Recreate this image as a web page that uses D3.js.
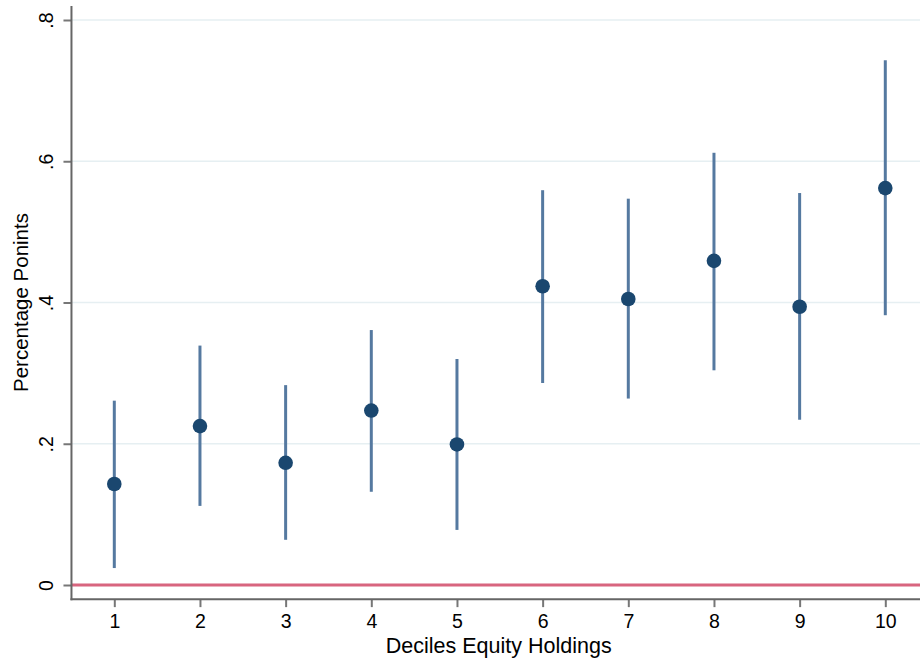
<!DOCTYPE html>
<html>
<head>
<meta charset="utf-8">
<script src="https://cdn.jsdelivr.net/npm/d3@7"></script>
<style>
  html, body { margin: 0; padding: 0; background: #ffffff; }
  svg { display: block; }
  text { font-family: "Liberation Sans", Arial, Helvetica, sans-serif; fill: #000; }
</style>
</head>
<body>
<svg id="chart" width="920" height="664"></svg>
<script>
// Deciles of equity holdings
const deciles = [1, 2, 3, 4, 5, 6, 7, 8, 9, 10];
// Point estimates (percentage points)
const estimates = [0.143, 0.225, 0.173, 0.247, 0.199, 0.423, 0.405, 0.459, 0.394, 0.562];
// Confidence interval bounds
const ciLower = [0.024, 0.112, 0.064, 0.132, 0.078, 0.286, 0.264, 0.304, 0.234, 0.382];
const ciUpper = [0.261, 0.339, 0.283, 0.361, 0.320, 0.559, 0.547, 0.612, 0.555, 0.743];
// Y-axis ticks and their labels
const yTicks = [0, 0.2, 0.4, 0.6, 0.8];
const yTickLabels = ["0", ".2", ".4", ".6", ".8"];

(function draw() {
  const svg = d3.select("#chart");
  const W = 920;

  const x = d3.scaleLinear().domain([1, 10]).range([114.3, 885.3]);
  const y = d3.scaleLinear().domain([0, 0.8]).range([585, 20]);

  const plotLeft = x(0.5);
  const plotBottom = y(-0.02);
  const plotTop = y(0.82);

  // Horizontal gridlines
  svg.append("g")
    .selectAll("line")
    .data(yTicks.filter(d => d > 0))
    .join("line")
    .attr("x1", plotLeft).attr("x2", W)
    .attr("y1", d => y(d)).attr("y2", d => y(d))
    .attr("stroke", "#e6eff2").attr("stroke-width", 1.5);

  // Reference line at zero
  svg.append("line")
    .attr("x1", plotLeft).attr("x2", W)
    .attr("y1", y(0)).attr("y2", y(0))
    .attr("stroke", "#d8657f").attr("stroke-width", 3);

  // Y axis
  const yAxis = svg.append("g")
    .attr("transform", `translate(${plotLeft},0)`)
    .call(d3.axisLeft(y).tickValues(yTicks)
      .tickFormat((d, i) => yTickLabels[i]).tickSize(8).tickPadding(0));
  yAxis.select(".domain").remove();
  yAxis.selectAll(".tick line").attr("stroke", "#777").attr("stroke-width", 2);
  yAxis.selectAll(".tick text")
    .attr("x", 0).attr("dy", 0)
    .attr("transform", "translate(-18,0) rotate(-90)")
    .attr("text-anchor", "middle")
    .style("font-size", "19.5px");
  svg.append("line")
    .attr("x1", plotLeft).attr("x2", plotLeft)
    .attr("y1", plotTop).attr("y2", plotBottom + 1)
    .attr("stroke", "#666").attr("stroke-width", 2);

  // X axis
  const xAxis = svg.append("g")
    .attr("transform", `translate(0,${plotBottom})`)
    .call(d3.axisBottom(x).tickValues(deciles).tickFormat(d3.format("d"))
      .tickSize(8).tickPadding(7));
  xAxis.select(".domain").remove();
  xAxis.selectAll(".tick line").attr("stroke", "#777").attr("stroke-width", 2);
  xAxis.selectAll(".tick text").style("font-size", "19.5px");
  svg.append("line")
    .attr("x1", plotLeft - 1).attr("x2", W)
    .attr("y1", plotBottom).attr("y2", plotBottom)
    .attr("stroke", "#666").attr("stroke-width", 2);

  // Axis titles
  svg.append("text")
    .attr("x", (plotLeft + W) / 2 + 3).attr("y", 653)
    .attr("text-anchor", "middle")
    .style("font-size", "21.5px")
    .text("Deciles Equity Holdings");
  svg.append("text")
    .attr("transform", `translate(28,${(y(0) + y(0.8)) / 2}) rotate(-90)`)
    .attr("text-anchor", "middle")
    .style("font-size", "20.5px")
    .text("Percentage Ponints");

  // Confidence intervals
  const rows = deciles.map((d, i) => ({ d, est: estimates[i], lo: ciLower[i], hi: ciUpper[i] }));
  svg.append("g")
    .selectAll("line")
    .data(rows)
    .join("line")
    .attr("x1", r => x(r.d)).attr("x2", r => x(r.d))
    .attr("y1", r => y(r.lo)).attr("y2", r => y(r.hi))
    .attr("stroke", "#5579a0").attr("stroke-width", 3);

  // Point estimates
  svg.append("g")
    .selectAll("circle")
    .data(rows)
    .join("circle")
    .attr("cx", r => x(r.d)).attr("cy", r => y(r.est))
    .attr("r", 7.3)
    .attr("fill", "#1a476f");
})();
</script>
</body>
</html>
